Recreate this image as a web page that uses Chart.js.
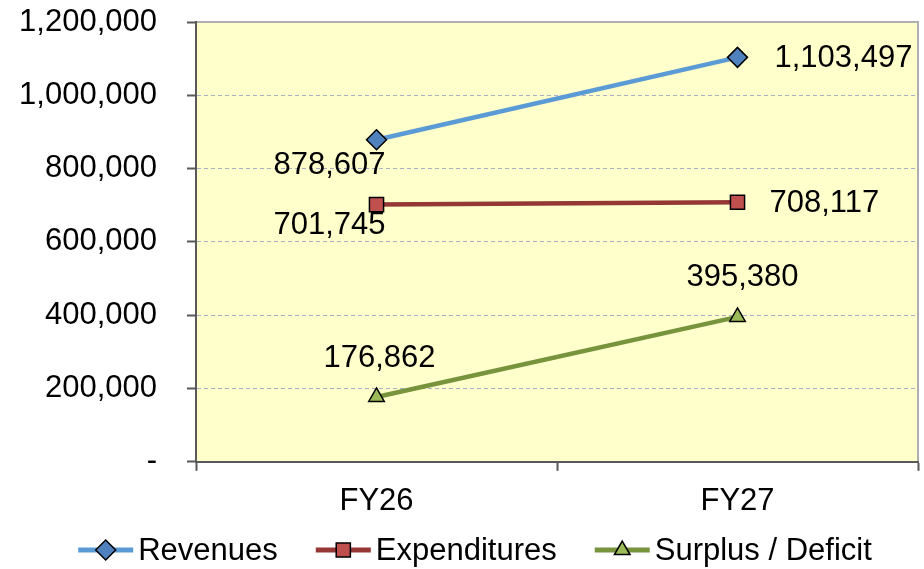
<!DOCTYPE html>
<html>
<head>
    <title>Revenues, Expenditures and Surplus</title>
    <script src="https://cdn.jsdelivr.net/npm/chart.js"></script>
    <style>
        body {
            margin: 0;
            background-color: white;
        }
        .chart-container {
            width: 924px;
            height: 569px;
        }
    </style>
</head>
<body>
    <div class="chart-container">
        <canvas id="fyChart"></canvas>
    </div>

    <script>
        // Data
        const years = ['FY26', 'FY27'];
        const revenues = [878607, 1103497];
        const expenditures = [701745, 708117];
        const surplus = [176862, 395380];
        const yMin = 0;
        const yMax = 1200000;
        const yStep = 200000;

        const FONT = '"Liberation Sans", Arial, sans-serif';
        const fmt = v => v === 0 ? '-' : v.toLocaleString('en-US');

        // yellow plot area with a grey frame on top and right
        const plotBg = {
            id: 'plotBg',
            beforeDraw(chart) {
                const { ctx, chartArea: a } = chart;
                ctx.save();
                ctx.fillStyle = '#FFFFCC';
                ctx.fillRect(a.left, a.top, a.width, a.height);
                ctx.strokeStyle = '#B0B0B0';
                ctx.lineWidth = 2;
                ctx.beginPath();
                ctx.moveTo(a.left, a.top);
                ctx.lineTo(a.right, a.top);
                ctx.lineTo(a.right, a.bottom);
                ctx.stroke();
                ctx.restore();
            }
        };

        // value labels beside each point
        const pointLabels = {
            id: 'pointLabels',
            afterDatasetsDraw(chart) {
                const ctx = chart.ctx;
                ctx.save();
                ctx.font = '31px ' + FONT;
                ctx.fillStyle = '#000';
                ctx.textBaseline = 'middle';
                chart.data.datasets.forEach((ds, i) => {
                    chart.getDatasetMeta(i).data.forEach((pt, j) => {
                        const pos = ds.labelPos[j];
                        ctx.textAlign = pos.align;
                        ctx.fillText(fmt(ds.data[j]), pt.x + pos.dx, pt.y + pos.dy);
                    });
                });
                ctx.restore();
            }
        };

        // legend with line + marker, like the office chart
        const lineLegend = {
            id: 'lineLegend',
            afterDraw(chart) {
                const ctx = chart.ctx;
                const dsets = chart.data.datasets;
                const lineLen = 55, textGap = 5, itemGap = 38;
                ctx.save();
                ctx.font = '31px ' + FONT;
                const widths = dsets.map(ds => lineLen + textGap + ctx.measureText(ds.label).width);
                const total = widths.reduce((a, b) => a + b, 0) + itemGap * (dsets.length - 1);
                let x = 475 - total / 2;
                const y = 550;
                dsets.forEach((ds, i) => {
                    ctx.strokeStyle = ds.borderColor;
                    ctx.lineWidth = 5;
                    ctx.beginPath();
                    ctx.moveTo(x, y);
                    ctx.lineTo(x + lineLen, y);
                    ctx.stroke();
                    ctx.fillStyle = ds.pointBackgroundColor;
                    ctx.strokeStyle = '#000';
                    ctx.lineWidth = 1.5;
                    Chart.helpers.drawPoint(ctx, {
                        pointStyle: ds.pointStyle,
                        radius: ds.pointRadius,
                        rotation: 0,
                        borderWidth: 1.5
                    }, x + lineLen / 2, y);
                    ctx.fillStyle = '#000';
                    ctx.textAlign = 'left';
                    ctx.textBaseline = 'middle';
                    ctx.fillText(ds.label, x + lineLen + textGap, y + 1);
                    x += widths[i] + itemGap;
                });
                ctx.restore();
            }
        };

        const ctx = document.getElementById('fyChart').getContext('2d');
        const chart = new Chart(ctx, {
            type: 'line',
            data: {
                labels: years,
                datasets: [{
                    label: 'Revenues',
                    data: revenues,
                    borderColor: '#5B9BD5',
                    pointBackgroundColor: '#4F81BD',
                    pointStyle: 'rectRot',
                    pointRadius: 10,
                    labelPos: [{ dx: -47, dy: 26, align: 'center' }, { dx: 37, dy: 1, align: 'left' }]
                }, {
                    label: 'Expenditures',
                    data: expenditures,
                    borderColor: '#953735',
                    pointBackgroundColor: '#C0504D',
                    pointStyle: 'rect',
                    pointRadius: 10,
                    labelPos: [{ dx: -47, dy: 21, align: 'center' }, { dx: 32, dy: 1, align: 'left' }]
                }, {
                    label: 'Surplus / Deficit',
                    data: surplus,
                    borderColor: '#77933C',
                    pointBackgroundColor: '#9BBB59',
                    pointStyle: 'triangle',
                    pointRadius: 9,
                    labelPos: [{ dx: 3, dy: -39, align: 'center' }, { dx: 5, dy: -39, align: 'center' }]
                }]
            },
            options: {
                responsive: true,
                maintainAspectRatio: false,
                animation: false,
                datasets: {
                    line: {
                        borderWidth: 4.5,
                        tension: 0,
                        pointBorderColor: '#000',
                        pointBorderWidth: 1.5
                    }
                },
                layout: {
                    autoPadding: false,
                    padding: { left: 0, right: 6, top: 22, bottom: 37 }
                },
                plugins: {
                    legend: { display: false },
                    tooltip: { enabled: false }
                },
                scales: {
                    x: {
                        offset: true,
                        afterFit(scale) {
                            scale.paddingLeft = 0;
                            scale.paddingRight = 0;
                        },
                        grid: {
                            offset: true,
                            drawOnChartArea: false,
                            tickLength: 9,
                            tickWidth: 2,
                            tickColor: '#595959'
                        },
                        border: { color: '#595959', width: 2 },
                        ticks: {
                            color: '#000',
                            padding: 12,
                            font: { family: FONT, size: 31 }
                        }
                    },
                    y: {
                        min: yMin,
                        max: yMax,
                        afterFit(scale) {
                            scale.width = 196;
                            scale.paddingTop = 0;
                            scale.paddingBottom = 0;
                        },
                        grid: {
                            color: c => (c.tick && (c.tick.value === yMin || c.tick.value === yMax)) ? 'rgba(0,0,0,0)' : '#A9AFC4',
                            lineWidth: 1,
                            tickLength: 9,
                            tickWidth: 2,
                            tickColor: '#595959'
                        },
                        border: { color: '#595959', width: 2, dash: [4, 3] },
                        ticks: {
                            stepSize: yStep,
                            color: '#000',
                            padding: 30,
                            font: { family: FONT, size: 31 },
                            callback: v => fmt(v)
                        }
                    }
                }
            },
            plugins: [plotBg, pointLabels, lineLegend]
        });
    </script>
</body>
</html>
